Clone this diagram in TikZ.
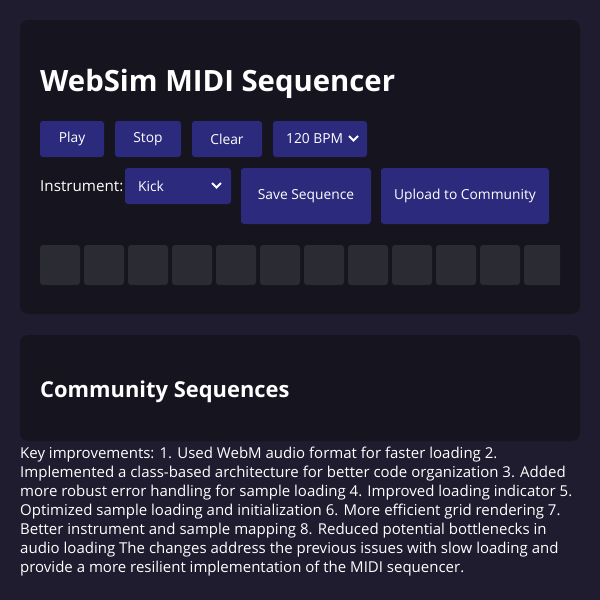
\documentclass[tikz,border=0pt]{standalone}
\usepackage{fontspec}
\setmainfont{Open Sans}
\begin{document}
\begin{tikzpicture}[x=1pt,y=-1pt,
 panel/.style={fill=panelc,rounded corners=8pt,draw=none},
 btn/.style={fill=btnc,rounded corners=3pt},
 lbl/.style={text=white,font=\fontsize{13.8}{16}\selectfont},
 cell/.style={fill=cellc,rounded corners=3pt},
 txt/.style={text=white,anchor=base west,inner sep=0}]
\definecolor{bgc}{HTML}{1E1C2E}
\definecolor{panelc}{HTML}{16151F}
\definecolor{btnc}{HTML}{2C2A7C}
\definecolor{cellc}{HTML}{2B2B33}
\fill[bgc] (0,0) rectangle (600,600);
\useasboundingbox (0,0) rectangle (600,600);
\fill[panel] (20,20) rectangle (580,314);
\node[txt,font=\fontsize{29.3}{32}\selectfont\bfseries] (title) at (40,91) {WebSim MIDI Sequencer};
\path[btn] (40,121) rectangle (104,157); \node[lbl] (play) at (72,139) {Play};
\path[btn] (115,121) rectangle (181,157); \node[lbl] (stop) at (148,139) {Stop};
\path[btn] (192,121) rectangle (262,157); \node[lbl] (clear) at (227,139) {Clear};
\path[btn] (273,121) rectangle (367,157); \node[lbl,anchor=west,inner sep=0] (bpm) at (286,139) {120 BPM};
\draw[white,line width=1.8pt] (349,136) -- (353.5,140.5) -- (358,136);
\node[txt,font=\fontsize{15.2}{18}\selectfont] (instl) at (40,191) {Instrument:};
\path[btn] (125,168) rectangle (231,204); \node[lbl,anchor=west,inner sep=0] (kick) at (138,186) {Kick};
\draw[white,line width=1.8pt] (212,183) -- (216.5,187.5) -- (221,183);
\path[btn] (241,168) rectangle (371,224); \node[lbl] (save) at (306,196) {Save Sequence};
\path[btn] (381,168) rectangle (549,224); \node[lbl] (up) at (465,196) {Upload to Community};
\begin{scope}
\clip (40,240) rectangle (560,290);
\foreach \i in {0,...,11} \path[cell] (40+44*\i,245) rectangle (80+44*\i,285);
\end{scope}
\fill[panel] (20,335) rectangle (580,441);
\node[txt,font=\fontsize{21.9}{24}\selectfont\bfseries] (comm) at (40,397) {Community Sequences};
\begin{scope}[every node/.style={txt,font=\fontsize{15}{18}\selectfont}]
\node (l1) at (20,458) {Key improvements: 1. Used WebM audio format for faster loading 2.};
\node (l2) at (20,477) {Implemented a class-based architecture for better code organization 3. Added};
\node (l3) at (20,496) {more robust error handling for sample loading 4. Improved loading indicator 5.};
\node (l4) at (20,515) {Optimized sample loading and initialization 6. More efficient grid rendering 7.};
\node (l5) at (20,534) {Better instrument and sample mapping 8. Reduced potential bottlenecks in};
\node (l6) at (20,553) {audio loading The changes address the previous issues with slow loading and};
\node (l7) at (20,572) {provide a more resilient implementation of the MIDI sequencer.};
\end{scope}
\end{tikzpicture}
\end{document}
